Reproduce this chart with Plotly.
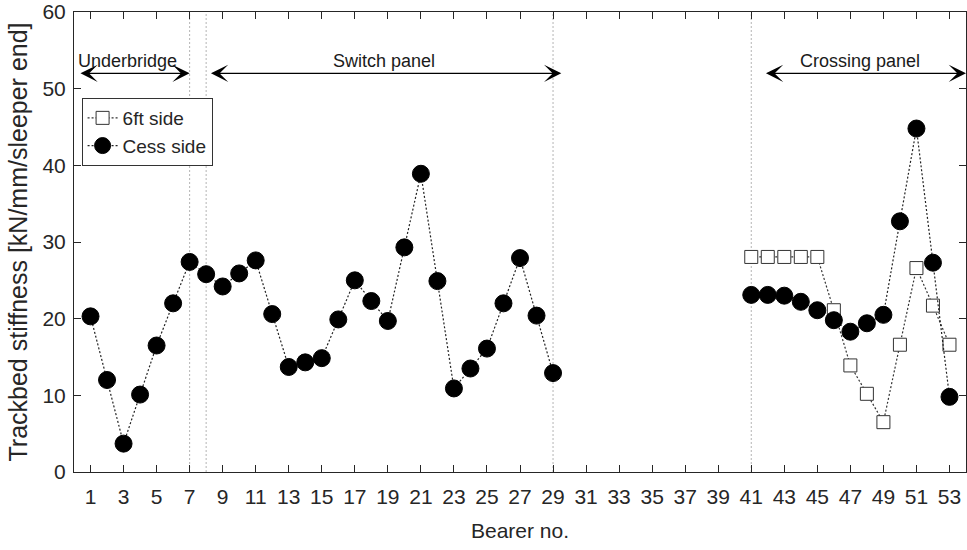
import plotly.graph_objects as go

bearers = list(range(1, 54))
cess_vals = [20.3, 12.0, 3.7, 10.1, 16.5, 22.0, 27.4, 25.8, 24.2, 25.9,
             27.6, 20.6, 13.7, 14.3, 14.85, 19.9, 25.0, 22.3, 19.7, 29.3,
             38.9, 24.9, 10.9, 13.5, 16.1, 22.0, 27.9, 20.4, 12.9] + [None] * 11 + \
            [23.1, 23.1, 23.0, 22.2, 21.1, 19.8, 18.3, 19.4, 20.5, 32.7, 44.8, 27.3, 9.8]
sixft_vals = [None] * 40 + [28.05, 28.05, 28.05, 28.05, 28.05, 21.1, 13.9, 10.2, 6.5,
                            16.6, 26.6, 21.7, 16.6]

divider_x = [7, 8, 29, 41]
panel_names = ["Underbridge", "Switch panel", "Crossing panel"]
panel_start = [0.3, 8.2, 41.8]
panel_end = [7.0, 29.5, 54.0]
panel_label_x = [3.23, 18.75, 47.6]
arrow_y = 52.0
label_y = 53.6

tick_vals = list(range(1, 54, 2))
ytick_vals = [0, 10, 20, 30, 40, 50, 60]

fig = go.Figure()

fig.add_trace(go.Scatter(
    x=bearers, y=sixft_vals, name="6ft side", mode="lines+markers",
    line=dict(color="#333333", width=1.2, dash="2px,2px"),
    marker=dict(symbol="square", size=13, color="white",
                line=dict(color="#333333", width=1)),
    connectgaps=False,
))
fig.add_trace(go.Scatter(
    x=bearers, y=cess_vals, name="Cess side", mode="lines+markers",
    line=dict(color="#222222", width=1.2, dash="2px,2px"),
    marker=dict(symbol="circle", size=17, color="black",
                line=dict(color="black", width=1)),
    connectgaps=False,
))

shapes = []
for xv in divider_x:
    shapes.append(dict(type="line", xref="x", yref="y", x0=xv, x1=xv, y0=0, y1=60,
                       line=dict(color="#b4b4b4", width=1, dash="2px,2px"), layer="below"))

annotations = []
for name, s, e, lx in zip(panel_names, panel_start, panel_end, panel_label_x):
    annotations.append(dict(
        x=e, y=arrow_y, ax=s, ay=arrow_y, xref="x", yref="y", axref="x", ayref="y",
        showarrow=True, arrowhead=3, startarrowhead=3, arrowside="end+start",
        arrowsize=2.4, startarrowsize=2.4, arrowwidth=1.2, arrowcolor="black", text=""))
    annotations.append(dict(
        x=lx, y=label_y, xref="x", yref="y", text=name, showarrow=False,
        yanchor="middle", font=dict(size=18, color="#1a1a1a")))

fig.update_layout(
    width=967, height=550,
    margin=dict(l=74, r=0, t=9, b=78),
    plot_bgcolor="white", paper_bgcolor="white",
    font=dict(family="Liberation Sans, Arial, sans-serif", color="#262626"),
    shapes=shapes, annotations=annotations,
    showlegend=True,
    legend=dict(x=0.0085, y=0.813, xanchor="left", yanchor="top",
                bgcolor="white", bordercolor="#333333", borderwidth=1,
                font=dict(size=19, color="#262626"),
                tracegroupgap=0, itemwidth=30),
    xaxis=dict(
        range=[0, 54], tickmode="array", tickvals=tick_vals,
        ticks="inside", ticklen=7, tickcolor="#262626", tickwidth=1,
        showline=True, linecolor="#262626", linewidth=1, mirror="ticks",
        showgrid=False, zeroline=False, ticklabelstandoff=6,
        tickfont=dict(size=21, color="#262626"),
        title=dict(text="Bearer no.", font=dict(size=21, color="#262626"), standoff=16),
    ),
    yaxis=dict(
        range=[0, 60], tickmode="array", tickvals=ytick_vals,
        ticks="inside", ticklen=7, tickcolor="#262626", tickwidth=1,
        showline=True, linecolor="#262626", linewidth=1, mirror="ticks",
        showgrid=False, zeroline=False, ticklabelstandoff=3,
        ticklabeloverflow="allow",
        tickfont=dict(size=21, color="#262626"),
        title=dict(text="Trackbed stiffness [kN/mm/sleeper end]",
                   font=dict(size=25, color="#262626"), standoff=7),
    ),
)

fig.write_html("out.html")
